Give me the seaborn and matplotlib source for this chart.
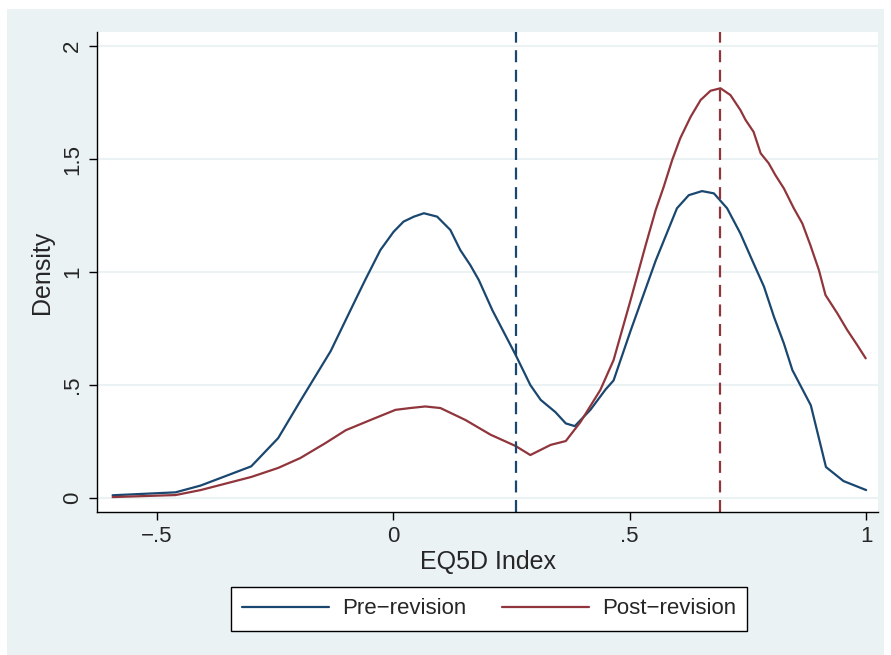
import numpy as np
import pandas as pd
import matplotlib.pyplot as plt
import seaborn as sns
from matplotlib.patches import Rectangle

# kernel density estimates
pre_x = [-0.593, -0.46, -0.407, -0.30, -0.243, -0.196, -0.132, -0.08, -0.059, -0.027,
         0.001, 0.022, 0.044, 0.065, 0.093, 0.121, 0.142, 0.163, 0.181, 0.21,
         0.259, 0.29, 0.312, 0.343, 0.365, 0.384, 0.417, 0.449, 0.466, 0.502,
         0.555, 0.60, 0.625, 0.653, 0.678, 0.706, 0.734, 0.762, 0.784, 0.805,
         0.826, 0.844, 0.883, 0.915, 0.952, 1.0]
pre_y = [0.012, 0.025, 0.055, 0.14, 0.265, 0.43, 0.65, 0.875, 0.965, 1.097,
         1.178, 1.223, 1.245, 1.26, 1.245, 1.186, 1.097, 1.031, 0.965, 0.83,
         0.633, 0.5, 0.434, 0.38, 0.33, 0.318, 0.39, 0.48, 0.52, 0.74,
         1.05, 1.282, 1.34, 1.358, 1.348, 1.282, 1.171, 1.038, 0.935, 0.802,
         0.684, 0.566, 0.41, 0.137, 0.075, 0.035]

post_x = [-0.593, -0.46, -0.407, -0.30, -0.243, -0.196, -0.143, -0.10, -0.048, 0.005,
          0.036, 0.068, 0.10, 0.153, 0.206, 0.259, 0.29, 0.333, 0.365, 0.396,
          0.438, 0.466, 0.502, 0.534, 0.555, 0.572, 0.59, 0.607, 0.629, 0.65,
          0.671, 0.692, 0.713, 0.734, 0.745, 0.762, 0.777, 0.794, 0.808, 0.826,
          0.847, 0.865, 0.882, 0.90, 0.914, 0.939, 0.96, 0.981, 0.999]
post_y = [0.004, 0.013, 0.035, 0.093, 0.133, 0.177, 0.243, 0.30, 0.345, 0.39,
          0.398, 0.405, 0.398, 0.345, 0.28, 0.23, 0.19, 0.235, 0.252, 0.336,
          0.478, 0.61, 0.876, 1.12, 1.274, 1.377, 1.496, 1.592, 1.687, 1.761,
          1.802, 1.813, 1.783, 1.717, 1.673, 1.62, 1.525, 1.481, 1.429, 1.37,
          1.282, 1.215, 1.119, 1.009, 0.898, 0.817, 0.743, 0.677, 0.618]

groups = ["Pre\u2212revision", "Post\u2212revision"]
means = [0.259, 0.69]
colors = ["#1a476f", "#90353b"]

x_ticks = [-0.5, 0, 0.5, 1]
x_labels = ["\u2212.5", "0", ".5", "1"]
y_ticks = [0, 0.5, 1, 1.5, 2]
y_labels = ["0", ".5", "1", "1.5", "2"]

df = pd.concat([
    pd.DataFrame({"EQ5D Index": pre_x, "Density": pre_y, "group": groups[0]}),
    pd.DataFrame({"EQ5D Index": post_x, "Density": post_y, "group": groups[1]}),
])

sns.set_style("white")
plt.rcParams["font.family"] = ["Liberation Sans", "DejaVu Sans"]

bg = "#eaf2f3"
fig = plt.figure(figsize=(8.91, 6.55), dpi=100)
fig.patches.append(Rectangle((7 / 891, 0), 877 / 891, 646 / 655,
                             transform=fig.transFigure, facecolor=bg,
                             edgecolor="none", zorder=-10))
ax = fig.add_axes([97 / 891, 143 / 655, 781 / 891, 480 / 655])
ax.set_facecolor("white")

for y in y_ticks:
    ax.axhline(y, color=bg, lw=1.5, zorder=0)

sns.lineplot(data=df, x="EQ5D Index", y="Density", hue="group",
             palette=dict(zip(groups, colors)), lw=1.6, sort=False,
             legend=False, ax=ax)
for m, c in zip(means, colors):
    ax.axvline(m, color=c, lw=1.6, ls=(0, (5.4, 3.4)))

ax.set_xlim(-0.626, 1.025)
ax.set_ylim(-0.062, 2.062)
ax.set_xticks(x_ticks)
ax.set_xticklabels(x_labels)
ax.set_yticks(y_ticks)
ax.set_yticklabels(y_labels, rotation=90, va="center")
ax.tick_params(direction="out", length=6, width=1, color="black",
               labelsize=16, pad=4, left=True, bottom=True)
ax.set_xlabel("EQ5D Index", fontsize=18, labelpad=2)
ax.set_ylabel("Density", fontsize=18, labelpad=6)
for side in ["top", "right"]:
    ax.spines[side].set_visible(False)
for side in ["left", "bottom"]:
    ax.spines[side].set_color("black")
    ax.spines[side].set_linewidth(1)

handles = [plt.Line2D([], [], color=c, lw=1.6) for c in colors]
leg = fig.legend(handles, groups, loc="center", bbox_to_anchor=(489 / 891, 46 / 655),
                 ncol=2, fontsize=16, frameon=True, fancybox=False, framealpha=1,
                 handlelength=3.9, handletextpad=0.6, columnspacing=1.6,
                 borderpad=0.5, borderaxespad=0)
leg.get_frame().set_edgecolor("black")
leg.get_frame().set_linewidth(1)

fig.savefig("out.png", dpi=100, facecolor="white")
